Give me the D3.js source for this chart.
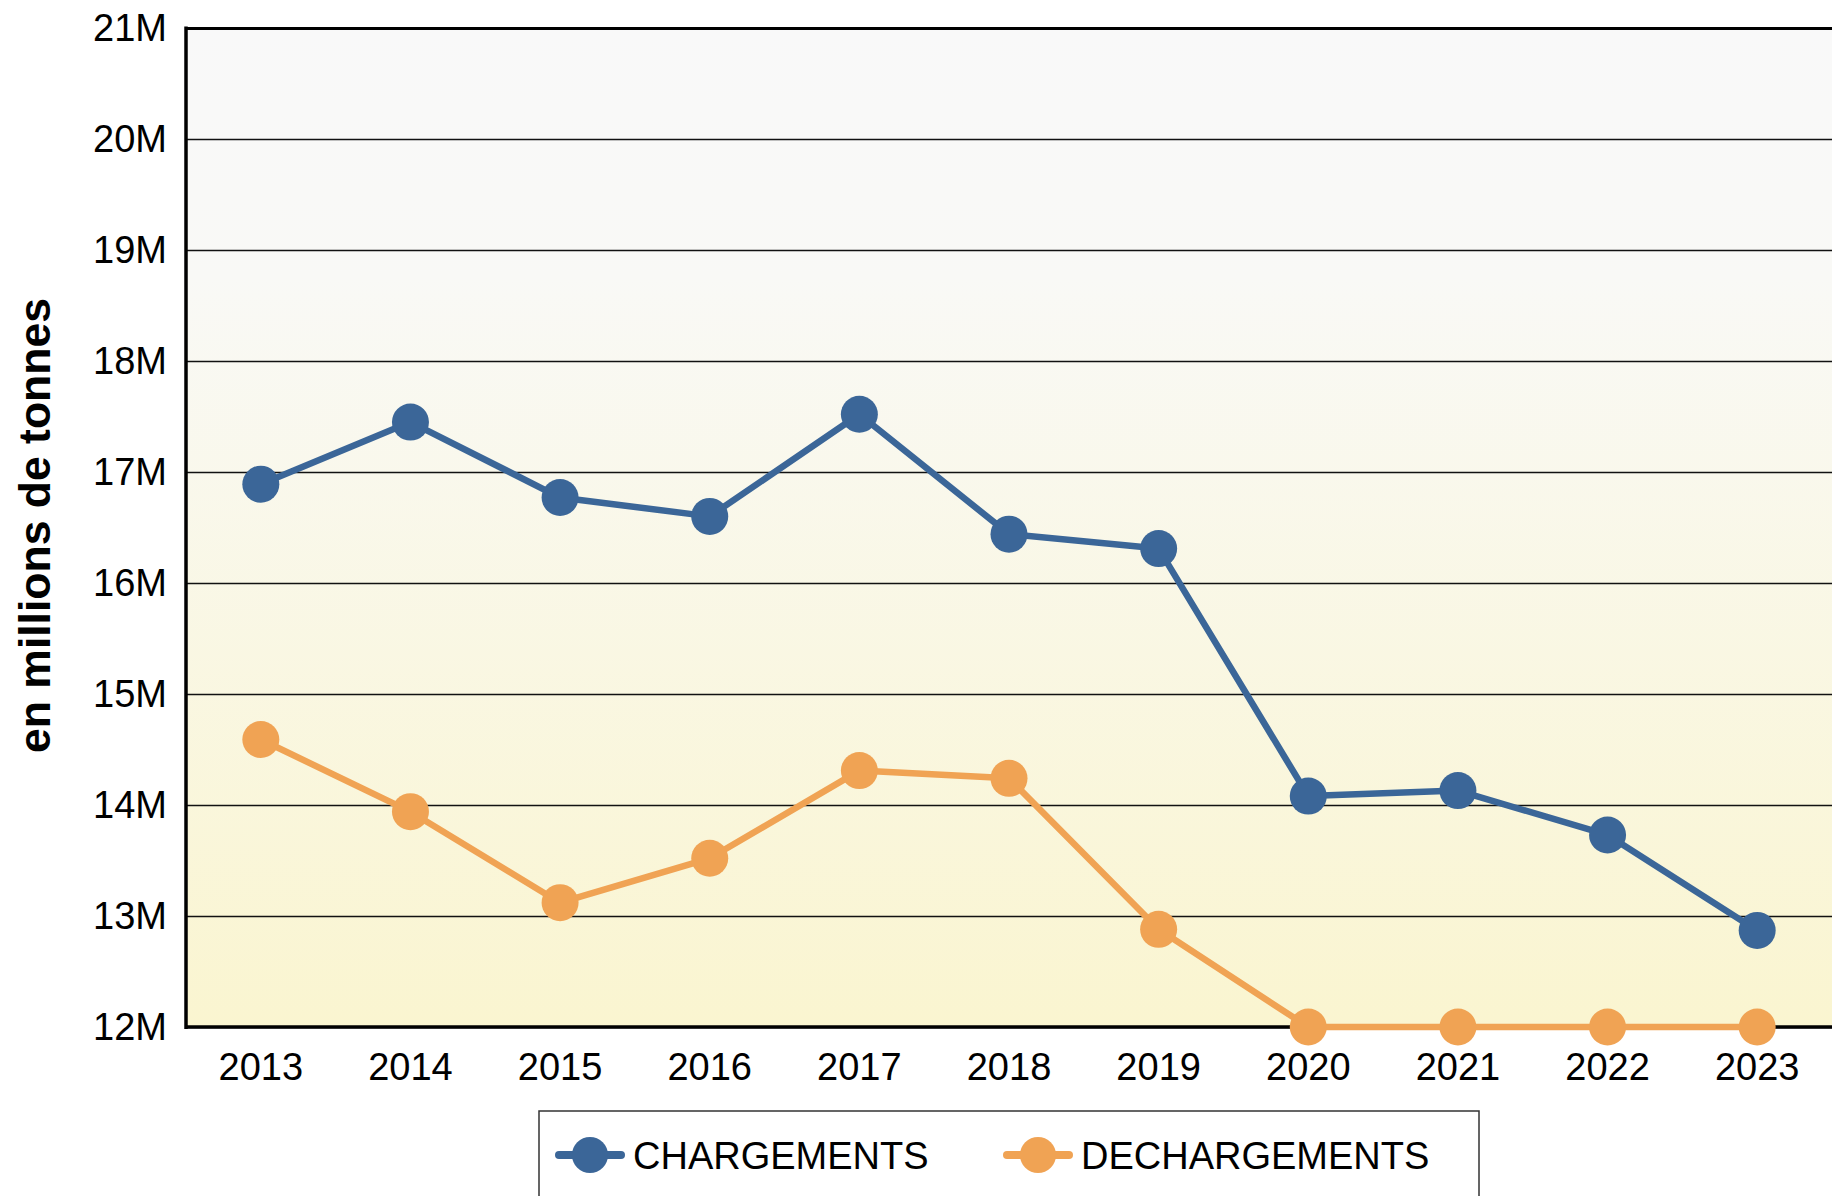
<!DOCTYPE html>
<html lang="fr">
<head>
  <meta charset="UTF-8" />
  <title>Chargements / Déchargements</title>
  <style>
    body { margin: 0; padding: 0; background: #fff; }
    svg { display: block; font-family: "Liberation Sans", Arial, sans-serif; }
  </style>
  <script src="https://d3js.org/d3.v7.min.js"></script>
</head>
<body>
  <svg width="1832" height="1196"></svg>
  <script>
    const years = ["2013", "2014", "2015", "2016", "2017", "2018", "2019", "2020", "2021", "2022", "2023"];
    const chargements = [16.89, 17.45, 16.77, 16.6, 17.52, 16.44, 16.31, 14.08, 14.13, 13.73, 12.87];
    const dechargements = [14.59, 13.94, 13.12, 13.52, 14.31, 14.24, 12.88, 12, 12, 12, 12];
    const yTicks = [12, 13, 14, 15, 16, 17, 18, 19, 20, 21];
    const seriesNames = ["CHARGEMENTS", "DECHARGEMENTS"];
    const seriesColors = ["#3b6698", "#f0a354"];

    const svg = d3.select("svg");
    const margin = { left: 186, right: 0, top: 28, bottom: 169 };
    const width = +svg.attr("width");
    const height = +svg.attr("height");
    const innerW = width - margin.left - margin.right;
    const innerH = height - margin.top - margin.bottom;

    const x = d3.scaleBand().domain(years).range([margin.left, margin.left + innerW]).padding(0);
    const y = d3.scaleLinear().domain([12, 21]).range([margin.top + innerH, margin.top]);
    const cx = d => x(d) + x.bandwidth() / 2;

    // background gradient
    const defs = svg.append("defs");
    const grad = defs.append("linearGradient").attr("id", "bg").attr("x1", 0).attr("y1", 0).attr("x2", 0).attr("y2", 1);
    grad.append("stop").attr("offset", "0%").attr("stop-color", "#f9f9f9");
    grad.append("stop").attr("offset", "25%").attr("stop-color", "#f9f9f6");
    grad.append("stop").attr("offset", "100%").attr("stop-color", "#faf5d0");

    svg.append("rect")
      .attr("x", margin.left).attr("y", margin.top)
      .attr("width", innerW).attr("height", innerH)
      .attr("fill", "url(#bg)");

    // gridlines
    const grid = svg.append("g")
      .attr("transform", `translate(${margin.left},0)`)
      .call(d3.axisLeft(y).tickValues(yTicks).tickSize(-innerW).tickFormat(""));
    grid.select(".domain").remove();
    grid.selectAll("line").attr("stroke", "#111").attr("stroke-width", 1.6);
    grid.selectAll(".tick").filter(d => d === 21).select("line").attr("stroke", "#000").attr("stroke-width", 3);

    // y axis labels
    const yAxis = svg.append("g")
      .attr("transform", `translate(${margin.left},0)`)
      .call(d3.axisLeft(y).tickValues(yTicks).tickSize(0).tickPadding(19).tickFormat(d => d + "M"));
    yAxis.select(".domain").remove();
    yAxis.selectAll("text").attr("font-size", 38).attr("fill", "#000").attr("font-family", "Liberation Sans, Arial, sans-serif");

    // x axis labels
    const xAxis = svg.append("g")
      .attr("transform", `translate(0,${margin.top + innerH})`)
      .call(d3.axisBottom(x).tickSize(0).tickPadding(26));
    xAxis.select(".domain").remove();
    xAxis.selectAll("text").attr("font-size", 38).attr("fill", "#000").attr("font-family", "Liberation Sans, Arial, sans-serif");

    // axis lines
    svg.append("line")
      .attr("x1", margin.left).attr("x2", margin.left)
      .attr("y1", margin.top - 1.5).attr("y2", margin.top + innerH + 2)
      .attr("stroke", "#000").attr("stroke-width", 3.5);
    svg.append("line")
      .attr("x1", margin.left).attr("x2", width)
      .attr("y1", margin.top + innerH).attr("y2", margin.top + innerH)
      .attr("stroke", "#000").attr("stroke-width", 3.5);

    // y title
    svg.append("text")
      .attr("transform", `translate(50,${margin.top + innerH / 2 - 2}) rotate(-90)`)
      .attr("text-anchor", "middle")
      .attr("font-size", 44.5)
      .attr("font-weight", "bold")
      .text("en millions de tonnes");

    // series
    const series = [chargements, dechargements];
    const line = d3.line().x((d, i) => cx(years[i])).y(d => y(d));

    series.forEach((vals, s) => {
      const g = svg.append("g");
      g.append("path")
        .datum(vals)
        .attr("d", line)
        .attr("fill", "none")
        .attr("stroke", seriesColors[s])
        .attr("stroke-width", 6.5)
        .attr("stroke-linejoin", "round");
      g.selectAll("circle")
        .data(vals)
        .join("circle")
        .attr("cx", (d, i) => cx(years[i]))
        .attr("cy", d => y(d))
        .attr("r", 18.5)
        .attr("fill", seriesColors[s]);
    });

    // legend
    const legend = svg.append("g");
    legend.append("rect")
      .attr("x", 539).attr("y", 1111)
      .attr("width", 940).attr("height", 130)
      .attr("fill", "#fff").attr("stroke", "#333").attr("stroke-width", 1.5);

    const legendX = [590, 1038];
    seriesNames.forEach((name, s) => {
      const lx = legendX[s];
      legend.append("line")
        .attr("x1", lx - 31).attr("x2", lx + 31)
        .attr("y1", 1155).attr("y2", 1155)
        .attr("stroke", seriesColors[s]).attr("stroke-width", 8).attr("stroke-linecap", "round");
      legend.append("circle")
        .attr("cx", lx).attr("cy", 1155).attr("r", 18)
        .attr("fill", seriesColors[s]);
      legend.append("text")
        .attr("x", lx + 43).attr("y", 1155).attr("dy", "0.36em")
        .attr("font-size", 38)
        .text(name);
    });
  </script>
</body>
</html>
